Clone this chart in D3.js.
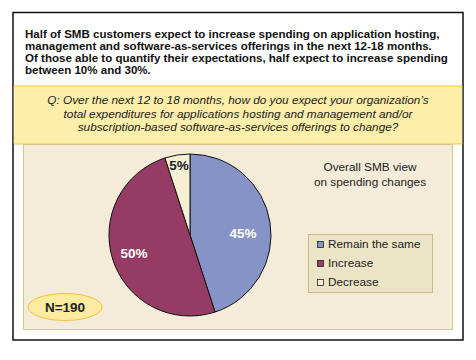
<!DOCTYPE html>
<html><head><meta charset="utf-8">
<script src="https://cdn.jsdelivr.net/npm/d3@7"></script>
<style>body{margin:0;background:#fff}svg{display:block}</style>
</head><body>
<svg id="c" width="476" height="360"></svg>
<script>
const categories = ["Remain the same", "Increase", "Decrease"];
const values = [45, 50, 5];
const labels = ["45%", "50%", "5%"];
const colors = ["#8593c6", "#963b63", "#f4f0d4"];
const headline = [
  "Half of SMB customers expect to increase spending on application hosting,",
  "management and software-as-services offerings in the next 12-18 months.",
  "Of those able to quantify their expectations, half expect to increase spending",
  "between 10% and 30%."
];
const question = [
  "Q: Over the next 12 to 18 months, how do you expect your organization\u2019s",
  "total expenditures for applications hosting and management and/or",
  "subscription-based software-as-services offerings to change?"
];
const pieTitle = ["Overall SMB view", "on spending changes"];
const sampleNote = "N=190";

const svg = d3.select("#c");
const F = "Liberation Sans, Arial, sans-serif";

// outer frame
svg.append("rect").attr("x",13).attr("y",12.5).attr("width",450).attr("height",327.5)
  .attr("fill","#fff").attr("stroke","#111").attr("stroke-width",1.5);

// headline
svg.append("g").selectAll("text").data(headline).join("text")
  .attr("x",25).attr("y",(d,i)=>37.5+i*12.3)
  .attr("font-family",F).attr("font-weight","bold").attr("font-size",11.55)
  .attr("fill","#111").text(d=>d);

// question band
svg.append("rect").attr("x",13.75).attr("y",86).attr("width",448.5).attr("height",58)
  .attr("fill","#fdeeaa");
svg.append("line").attr("x1",13.75).attr("x2",462.25).attr("y1",86).attr("y2",86).attr("stroke","#f5c242").attr("stroke-width",1);
svg.append("line").attr("x1",13.75).attr("x2",462.25).attr("y1",144).attr("y2",144).attr("stroke","#f5c242").attr("stroke-width",1);
svg.append("g").selectAll("text").data(question).join("text")
  .attr("x",238).attr("y",(d,i)=>104+i*13.6).attr("text-anchor","middle")
  .attr("font-family",F).attr("font-style","italic").attr("font-size",11.8)
  .attr("fill","#222").text(d=>d);

// inner panel
svg.append("rect").attr("x",23.5).attr("y",144.5).attr("width",429).attr("height",185)
  .attr("fill","#f4ecd8").attr("stroke","#d3c68c").attr("stroke-width",1);

// pie
const cx = 190, cy = 235, r = 81;
const pie = d3.pie().sort(null).value(d=>d)(values);
const arc = d3.arc().innerRadius(0).outerRadius(r);
const g = svg.append("g").attr("transform",`translate(${cx},${cy})`);
g.selectAll("path").data(pie).join("path")
  .attr("d",arc).attr("fill",(d,i)=>colors[i])
  .attr("stroke","#111").attr("stroke-width",1);
const labelPos = [[53,-2],[-56,18],[-11,-70]];
g.selectAll("text").data(pie).join("text")
  .attr("x",(d,i)=>labelPos[i][0]).attr("y",(d,i)=>labelPos[i][1]+5)
  .attr("text-anchor","middle").attr("font-family",F).attr("font-weight","bold")
  .attr("font-size",13.5).attr("fill",(d,i)=>i===2?"#222":"#fff").text((d,i)=>labels[i]);

// pie title
svg.append("g").selectAll("text").data(pieTitle).join("text")
  .attr("x",370).attr("y",(d,i)=>171+i*14.5).attr("text-anchor","middle")
  .attr("font-family",F).attr("font-size",11.8).attr("fill","#222").text(d=>d);

// legend
svg.append("rect").attr("x",308.5).attr("y",234.5).attr("width",124).attr("height",58)
  .attr("fill","#ece4c6").attr("stroke","#c9bc80").attr("stroke-width",1);
const lg = svg.append("g").selectAll("g").data(categories).join("g")
  .attr("transform",(d,i)=>`translate(317,${244+i*19})`);
lg.append("rect").attr("x",0.5).attr("y",-2.5).attr("width",6).attr("height",6)
  .attr("fill",(d,i)=>colors[i]).attr("stroke","#222").attr("stroke-width",0.8);
lg.append("text").attr("x",11).attr("y",4.3).attr("font-family",F).attr("font-size",11.8)
  .attr("fill","#222").text(d=>d);

// N ellipse
svg.append("ellipse").attr("cx",65).attr("cy",307).attr("rx",37).attr("ry",13.5)
  .attr("fill","#fdeba0").attr("stroke","#f5c242").attr("stroke-width",1);
svg.append("text").attr("x",65).attr("y",312).attr("text-anchor","middle")
  .attr("font-family",F).attr("font-weight","bold").attr("font-size",13.5)
  .attr("fill","#222").text(sampleNote);
</script>
</body></html>
